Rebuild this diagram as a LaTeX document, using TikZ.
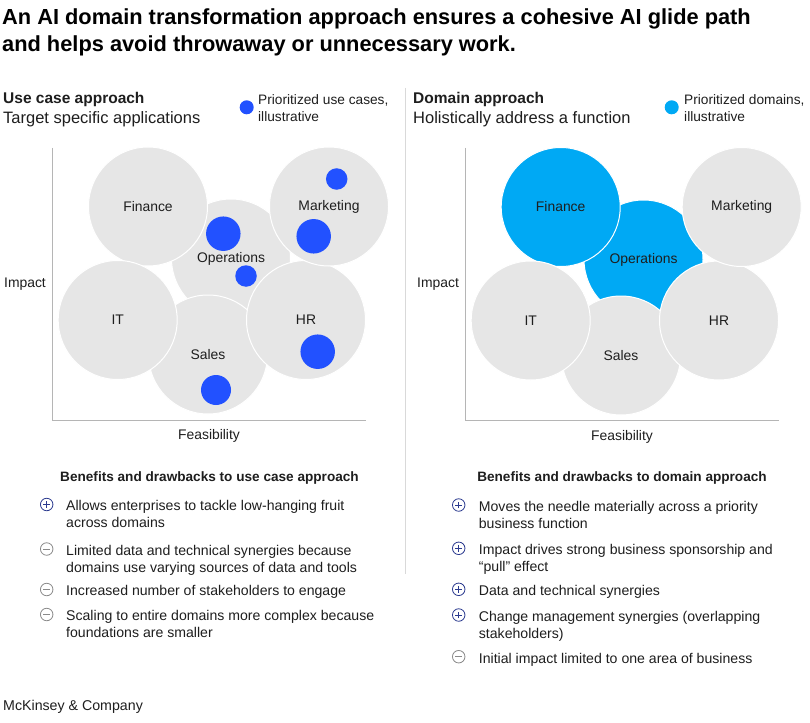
\documentclass[tikz,border=0pt]{standalone}
\usepackage{fontspec}
\setmainfont{Liberation Sans}
\usepackage{xcolor}
\usetikzlibrary{positioning}

\definecolor{ink}{HTML}{1E1E1E}
\definecolor{area}{HTML}{E6E6E6}
\definecolor{ucblue}{HTML}{2251FF}
\definecolor{dmcyan}{HTML}{00A9F4}
\definecolor{axisgray}{HTML}{B5B5B5}
\definecolor{rulegray}{HTML}{D9D9D9}
\definecolor{plusnavy}{HTML}{2B3A8F}
\definecolor{minusgray}{HTML}{8A8A8A}

\begin{document}
\begin{tikzpicture}[x=1pt, y=-1pt,
  every node/.style={text=ink, font=\fontsize{13.9}{17}\selectfont},
  dom/.style={circle, fill=area, draw=white, line width=1pt,
             minimum size=119pt, inner sep=0pt},
  pick/.style={dom, fill=dmcyan},
  uc/.style={circle, fill=ucblue, inner sep=0pt, minimum size=#1},
  lgd/.style={circle, inner sep=0pt, minimum size=14pt},
  axis/.style={draw=axisgray, line width=0.8pt},
  hd/.style={anchor=base west, inner sep=0pt, font=\bfseries\fontsize{15.5}{19}\selectfont},
  sub/.style={anchor=base west, inner sep=0pt, font=\fontsize{16.5}{20}\selectfont},
  bhd/.style={inner sep=0pt, font=\bfseries\fontsize{13.6}{17}\selectfont},
  itm/.style={anchor=north west, align=left, inner sep=0pt,
             font=\fontsize{14.1}{17}\selectfont},
  sign/.style={circle, draw=#1, line width=0.8pt, minimum size=12.5pt, inner sep=0pt},
  plusmark/.style={sign=plusnavy, path picture={
      \draw[plusnavy, line width=0.8pt]
        ([xshift=-3.3pt]path picture bounding box.center) --
        ([xshift=3.3pt]path picture bounding box.center);
      \draw[plusnavy, line width=0.8pt]
        ([yshift=-3.3pt]path picture bounding box.center) --
        ([yshift=3.3pt]path picture bounding box.center);}},
  minusmark/.style={sign=minusgray, path picture={
      \draw[minusgray, line width=0.8pt]
        ([xshift=-3.3pt]path picture bounding box.center) --
        ([xshift=3.3pt]path picture bounding box.center);}},
]
\useasboundingbox[fill=white] (0,0) rectangle (810,722);

% title
\node[anchor=north west, align=left, inner sep=0pt, text=black,
      font=\bfseries\fontsize{21.8}{26.5}\selectfont] (title) at (2,8.8)
  {An AI domain transformation approach ensures a cohesive AI glide path\\
   and helps avoid throwaway or unnecessary work.};

\draw[rulegray, line width=1pt] (405,88) -- (405,574);

% ---- use case approach
\node[hd]  (ucHead) at (3,104) {Use case approach};
\node[sub] (ucSub)  at (3,123.5) {Target specific applications};
\node[lgd, fill=ucblue] (ucKey) at (246.7,107.3) {};
\node[itm, font=\fontsize{13.7}{17}\selectfont] (ucKeyTxt) at (258,94) {Prioritized use cases,\\illustrative};

\draw[axis] (52.5,148) |- (366,420);
\node (ucImpact) at (25,284.5)  {Impact};
\node (ucFeas)   at (209,435.5) {Feasibility};

\node[dom] (opsL) at (231,258.5) {Operations};
\node[dom] (salL) at (208,354.5) {Sales};
\node[dom] (finL) at (148,206.5) {Finance};
\node[dom] (itL)  at (117.7,320) {IT};
\node[dom] (hrL)  at (306,320)   {HR};
\node[dom] (mktL) at (329,206.5) {Marketing};

\node[uc=21.5pt] (mkt1) at (336.7,179)   {};
\node[uc=34.5pt] (mkt2) at (313.7,236.3) {};
\node[uc=34.5pt] (ops1) at (223.3,233.7) {};
\node[uc=21.5pt] (ops2) at (246,276)     {};
\node[uc=34.5pt] (hr1)  at (317.7,351.7) {};
\node[uc=30pt]   (sal1) at (216,390)     {};

\node[bhd] (ucBen) at (209.5,477.5) {Benefits and drawbacks to use case approach};
\node[plusmark]  (ucS1) at (46.7,504.5) {};
\node[itm] (ucT1) at (66,500.3)   {Allows enterprises to tackle low-hanging fruit\\across domains};
\node[minusmark] (ucS2) at (46.7,549)   {};
\node[itm] (ucT2) at (66,544.8) {Limited data and technical synergies because\\domains use varying sources of data and tools};
\node[minusmark] (ucS3) at (46.7,589.5) {};
\node[itm] (ucT3) at (66,585.3)   {Increased number of stakeholders to engage};
\node[minusmark] (ucS4) at (46.7,614.5) {};
\node[itm] (ucT4) at (66,610.3)   {Scaling to entire domains more complex because\\foundations are smaller};

% ---- domain approach
\node[hd]  (dmHead) at (413,104) {Domain approach};
\node[sub] (dmSub)  at (413,123.5) {Holistically address a function};
\node[lgd, fill=dmcyan] (dmKey) at (671.7,107.3) {};
\node[itm, font=\fontsize{13.7}{17}\selectfont] (dmKeyTxt) at (684,94) {Prioritized domains,\\illustrative};

\draw[axis] (465.5,148) |- (779,420.5);
\node (dmImpact) at (438,284.5) {Impact};
\node (dmFeas)   at (622,436.5) {Feasibility};

\node[pick] (opsR) at (643.5,259.5) {Operations};
\node[dom]  (salR) at (621,355.5)   {Sales};
\node[pick] (finR) at (560.7,207)   {Finance};
\node[dom]  (itR)  at (530.7,320.5) {IT};
\node[dom]  (hrR)  at (719,320.5)   {HR};
\node[dom]  (mktR) at (741.7,207)   {Marketing};

\node[bhd] (dmBen) at (622,477.5) {Benefits and drawbacks to domain approach};
\node[plusmark]  (dmS1) at (458.7,505)   {};
\node[itm] (dmT1) at (478.7,500.8) {Moves the needle materially across a priority\\business function};
\node[plusmark]  (dmS2) at (458.7,548.3) {};
\node[itm] (dmT2) at (478.7,544.3)   {Impact drives strong business sponsorship and\\“pull” effect};
\node[plusmark]  (dmS3) at (458.7,589.3) {};
\node[itm] (dmT3) at (478.7,585.3)   {Data and technical synergies};
\node[plusmark]  (dmS4) at (458.7,615)   {};
\node[itm] (dmT4) at (478.7,610.8) {Change management synergies (overlapping\\stakeholders)};
\node[minusmark] (dmS5) at (458.7,656.7) {};
\node[itm] (dmT5) at (478.7,652.6) {Initial impact limited to one area of business};

\node[anchor=base west, inner sep=0pt, font=\fontsize{14.2}{17}\selectfont] (brand) at (3,710.5) {McKinsey \& Company};
\end{tikzpicture}
\end{document}
